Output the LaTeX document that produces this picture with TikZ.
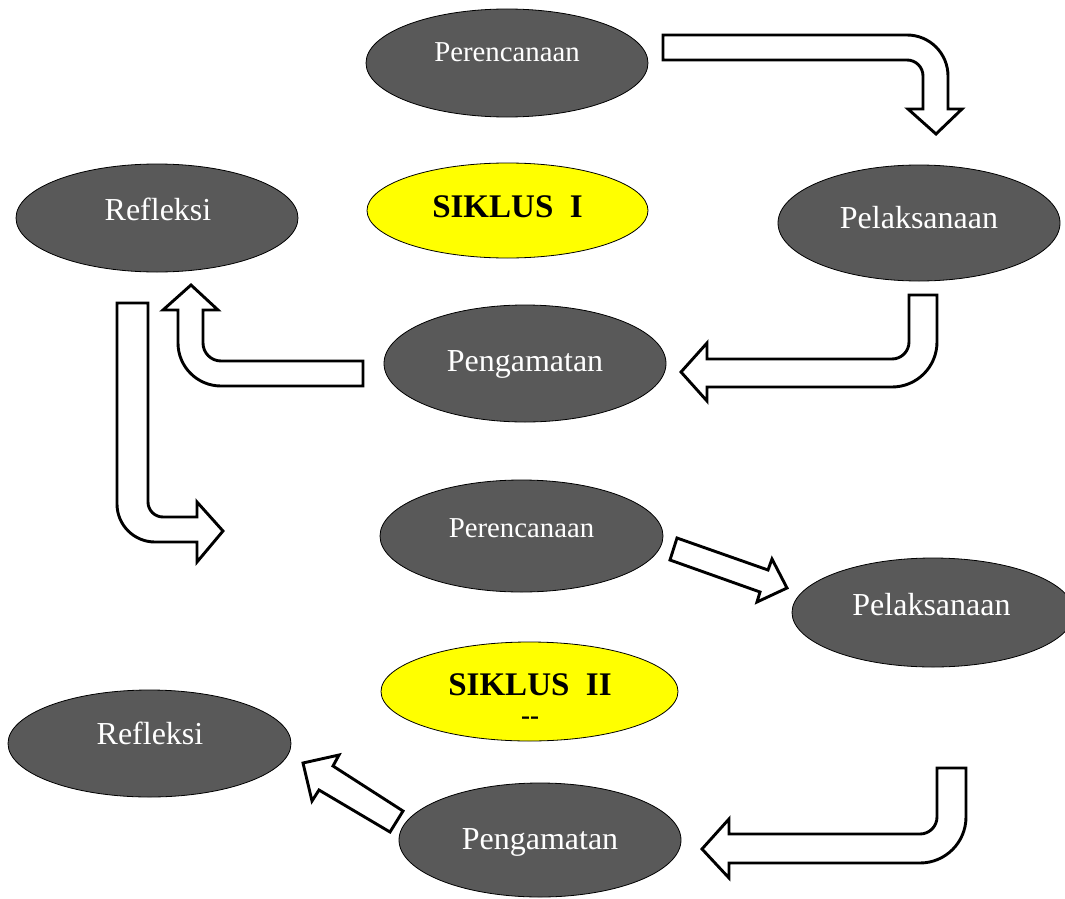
\documentclass[tikz,border=0pt]{standalone}
\usepackage{fontspec}
\setmainfont{Liberation Serif}
\usetikzlibrary{shapes.geometric}
\definecolor{ellgray}{HTML}{595959}
\definecolor{siklusyellow}{HTML}{FFFF00}
\begin{document}
\begin{tikzpicture}[x=1pt,y=-1pt,
  proc/.style={ellipse, draw=black, line width=0.8pt, fill=ellgray, inner sep=0pt},
  cyc/.style={ellipse, draw=black, line width=0.8pt, fill=siklusyellow, inner sep=0pt},
  ptext/.style={anchor=base, text=white, inner sep=0pt, font=\fontsize{32}{32}\selectfont},
  ptextsmall/.style={anchor=base, text=white, inner sep=0pt, font=\fontsize{28.8}{28.8}\selectfont},
  ctext/.style={anchor=base, text=black, inner sep=0pt, font=\fontsize{33}{33}\selectfont\bfseries},
  blockarrow/.style={draw=black, fill=white, line width=2.9pt, line join=miter}]
\useasboundingbox (0,0) rectangle (1065,899);
\fill[white] (0,0) rectangle (1065,899);

% ---------- Siklus I ----------
\node[proc, minimum width=282, minimum height=108] (planA) at (507,63) {};
\node[ptextsmall] (planAt) at (507,62) {Perencanaan};

\node[cyc, minimum width=281, minimum height=95] (cycA) at (507.5,210.5) {};
\node[ctext] (cycAt) at (507.5,217) {SIKLUS\hspace{0.5em}I};

\node[proc, minimum width=282, minimum height=108] (reflA) at (157,218) {};
\node[ptext] (reflAt) at (158,220) {Refleksi};

\node[proc, minimum width=282, minimum height=116] (doA) at (919,223) {};
\node[ptext] (doAt) at (919,228) {Pelaksanaan};

\node[proc, minimum width=282, minimum height=117] (obsA) at (525,363.5) {};
\node[ptext] (obsAt) at (525,371) {Pengamatan};

% ---------- Siklus II ----------
\node[proc, minimum width=283, minimum height=112] (planB) at (521.5,536) {};
\node[ptextsmall] (planBt) at (521.5,537) {Perencanaan};

\node[proc, minimum width=282, minimum height=109] (doB) at (933,612.5) {};
\node[ptext] (doBt) at (931.5,615) {Pelaksanaan};

\node[cyc, minimum width=297, minimum height=99] (cycB) at (529.5,691.5) {};
\node[ctext] (cycBt) at (530,695) {SIKLUS\hspace{0.5em}II};
\node[anchor=base, inner sep=0pt, font=\fontsize{27}{27}\selectfont\bfseries] (cycBd) at (530,724) {-{}-};

\node[proc, minimum width=283, minimum height=107] (reflB) at (149.5,743.5) {};
\node[ptext] (reflBt) at (150,744) {Refleksi};

\node[proc, minimum width=282, minimum height=114] (obsB) at (540,840) {};
\node[ptext] (obsBt) at (540,849) {Pengamatan};

% ---------- block arrows ----------
% Perencanaan -> Pelaksanaan (I)
\draw[blockarrow] (663,35) -- (907,35) arc[start angle=90,end angle=0,radius=41pt]
  -- (948,109) -- (962,109) -- (936,134) -- (908,109) -- (923,109) -- (923,76)
  arc[start angle=0,end angle=90,radius=16pt] -- (663,60) -- cycle;

% Pelaksanaan -> Pengamatan (I)
\draw[blockarrow] (909,295) -- (937,295) -- (937,342) arc[start angle=0,end angle=-90,radius=45pt]
  -- (707,387) -- (707,401) -- (681,372) -- (707,343) -- (707,359) -- (892,359)
  arc[start angle=-90,end angle=0,radius=17pt] -- cycle;

% Pengamatan -> Refleksi (I)
\draw[blockarrow] (363,361) -- (221,361) arc[start angle=-90,end angle=-180,radius=18pt]
  -- (203,310) -- (218,310) -- (191,285) -- (163,310) -- (178,310) -- (178,343)
  arc[start angle=180,end angle=270,radius=43pt] -- (363,386) -- cycle;

% Refleksi (I) -> Siklus II
\draw[blockarrow] (117,303) -- (148,303) -- (148,502) arc[start angle=180,end angle=270,radius=15pt]
  -- (197,517) -- (197,502) -- (223,531) -- (197,562) -- (197,542) -- (155,542)
  arc[start angle=270,end angle=180,radius=38pt] -- cycle;

% Perencanaan -> Pelaksanaan (II)
\draw[blockarrow] (677,538) -- (768,570) -- (772,559) -- (787,588) -- (757,602) -- (760,592) -- (670,560) -- cycle;

% Pelaksanaan -> Pengamatan (II)
\draw[blockarrow] (937,768) -- (966,768) -- (966,817) arc[start angle=0,end angle=-90,radius=46pt]
  -- (729,863) -- (729,878) -- (702,849) -- (729,819) -- (729,834) -- (920,834)
  arc[start angle=-90,end angle=0,radius=17pt] -- cycle;

% Pengamatan -> Refleksi (II)
\draw[blockarrow] (403,811) -- (333,766) -- (339,755) -- (303,763) -- (312,801) -- (319,790) -- (390,832) -- cycle;
\end{tikzpicture}
\end{document}
